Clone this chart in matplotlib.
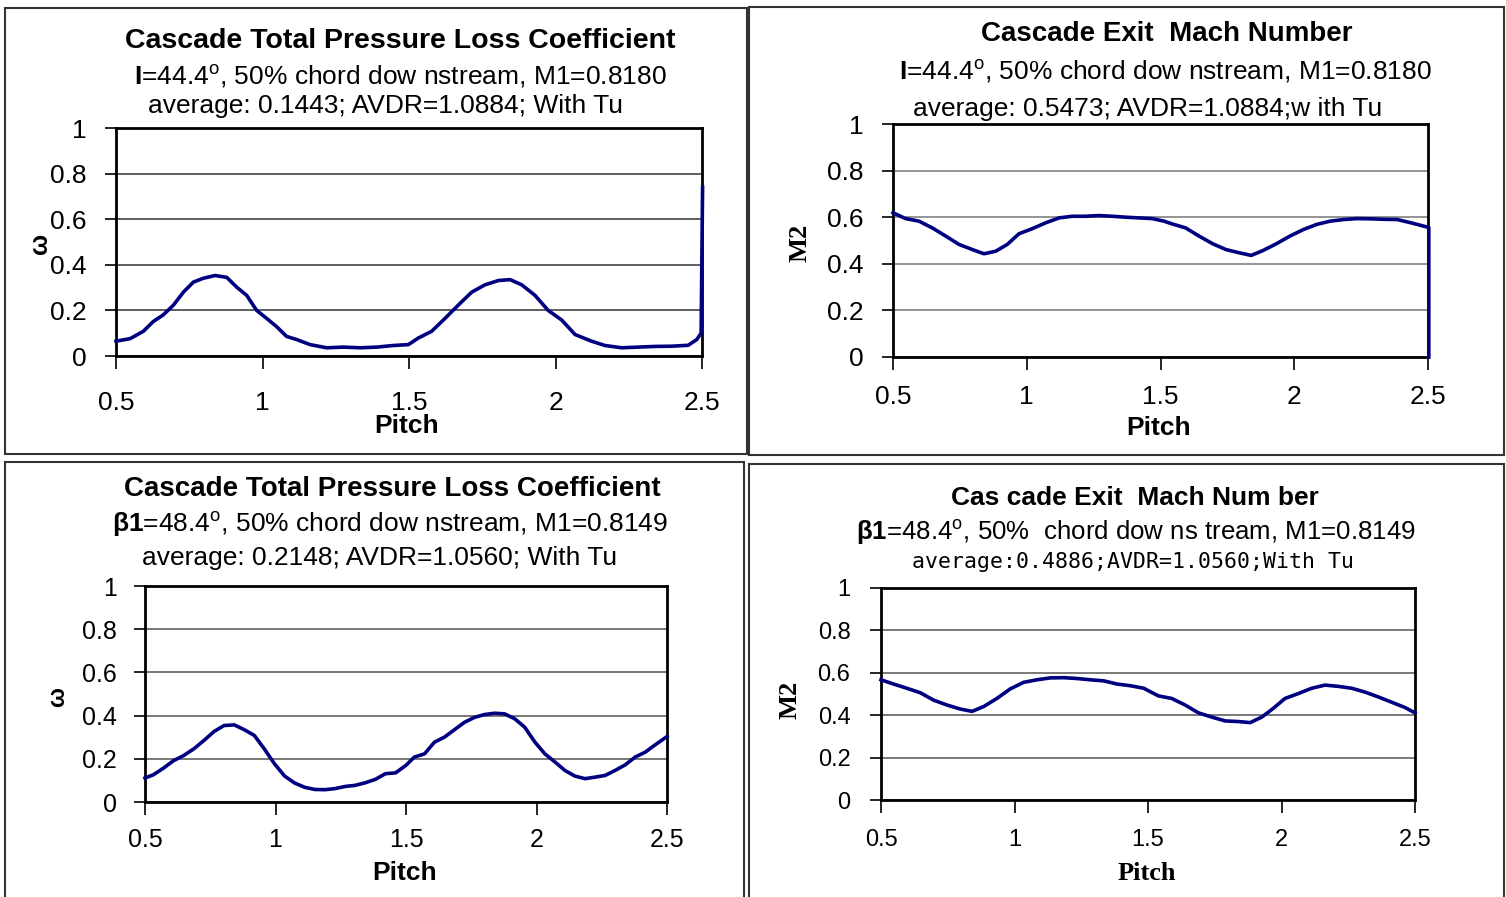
import numpy as np
import matplotlib
matplotlib.use('Agg')
import matplotlib.pyplot as plt
from matplotlib import font_manager
from matplotlib.patches import Rectangle
from matplotlib.ticker import FormatStrFormatter

plt.rcParams['font.family'] = ['Liberation Sans', 'DejaVu Sans']
plt.rcParams['mathtext.fontset'] = 'custom'
plt.rcParams['mathtext.rm'] = 'Liberation Sans'
plt.rcParams['mathtext.bf'] = 'Liberation Sans:bold'

installed = {f.name for f in font_manager.fontManager.ttflist}
narrow = 'Liberation Sans Narrow' if 'Liberation Sans Narrow' in installed else 'Liberation Sans'

# ---- traverse data: I = 44.4 deg ----
tl_pitch = [0.5, 0.548, 0.593, 0.627, 0.661, 0.696, 0.73, 0.764, 0.798, 0.838,
            0.878, 0.912, 0.946, 0.98, 1.014, 1.048, 1.082, 1.117, 1.162, 1.219,
            1.276, 1.333, 1.39, 1.446, 1.498, 1.532, 1.577, 1.623, 1.668, 1.714,
            1.759, 1.805, 1.845, 1.885, 1.93, 1.975, 2.021, 2.067, 2.123, 2.169,
            2.226, 2.283, 2.34, 2.397, 2.453, 2.482, 2.497, 2.502]
tl_loss = [0.065, 0.076, 0.108, 0.151, 0.18, 0.223, 0.28, 0.324, 0.341, 0.353,
           0.345, 0.302, 0.266, 0.2, 0.165, 0.129, 0.086, 0.072, 0.05, 0.036,
           0.039, 0.036, 0.039, 0.046, 0.05, 0.079, 0.108, 0.165, 0.223, 0.28,
           0.312, 0.331, 0.335, 0.312, 0.266, 0.2, 0.158, 0.094, 0.065, 0.046,
           0.036, 0.039, 0.042, 0.043, 0.047, 0.072, 0.1, 0.74]

tr_pitch = [0.5, 0.547, 0.597, 0.647, 0.697, 0.747, 0.797, 0.84, 0.884, 0.927,
            0.971, 1.021, 1.071, 1.121, 1.17, 1.22, 1.27, 1.32, 1.37, 1.42,
            1.469, 1.513, 1.544, 1.594, 1.644, 1.695, 1.745, 1.795, 1.839, 1.883,
            1.933, 1.984, 2.034, 2.084, 2.134, 2.185, 2.235, 2.285, 2.335, 2.385,
            2.436, 2.486, 2.503, 2.503]
tr_mach = [0.619, 0.594, 0.583, 0.554, 0.519, 0.483, 0.461, 0.443, 0.454, 0.483,
           0.529, 0.551, 0.576, 0.597, 0.604, 0.604, 0.607, 0.604, 0.6, 0.597,
           0.594, 0.583, 0.571, 0.554, 0.519, 0.486, 0.461, 0.447, 0.436, 0.457,
           0.486, 0.519, 0.547, 0.569, 0.583, 0.59, 0.594, 0.593, 0.591, 0.59,
           0.576, 0.561, 0.556, 0.0]

# ---- traverse data: beta1 = 48.4 deg ----
bl_pitch = [0.5, 0.532, 0.571, 0.61, 0.648, 0.687, 0.726, 0.764, 0.803, 0.842,
            0.88, 0.919, 0.957, 0.996, 1.035, 1.073, 1.112, 1.151, 1.189, 1.228,
            1.267, 1.305, 1.344, 1.383, 1.421, 1.46, 1.499, 1.532, 1.571, 1.609,
            1.647, 1.686, 1.724, 1.763, 1.801, 1.84, 1.878, 1.917, 1.955, 1.994,
            2.032, 2.071, 2.109, 2.147, 2.186, 2.224, 2.263, 2.301, 2.34, 2.378,
            2.417, 2.455, 2.5]
bl_loss = [0.111, 0.126, 0.157, 0.192, 0.215, 0.246, 0.285, 0.326, 0.354, 0.357,
           0.335, 0.308, 0.246, 0.177, 0.12, 0.088, 0.068, 0.058, 0.057, 0.062,
           0.072, 0.077, 0.089, 0.105, 0.131, 0.135, 0.169, 0.208, 0.223, 0.277,
           0.3, 0.335, 0.369, 0.392, 0.405, 0.411, 0.408, 0.385, 0.346, 0.277,
           0.223, 0.185, 0.146, 0.12, 0.108, 0.115, 0.123, 0.146, 0.172, 0.208,
           0.231, 0.265, 0.303]

br_pitch = [0.5, 0.547, 0.597, 0.647, 0.697, 0.747, 0.797, 0.841, 0.885, 0.934,
            0.984, 1.034, 1.084, 1.134, 1.184, 1.234, 1.284, 1.334, 1.384, 1.434,
            1.484, 1.539, 1.589, 1.639, 1.689, 1.739, 1.789, 1.839, 1.883, 1.926,
            1.97, 2.013, 2.063, 2.113, 2.163, 2.213, 2.263, 2.313, 2.363, 2.413,
            2.463, 2.5]
br_mach = [0.567, 0.547, 0.527, 0.506, 0.471, 0.448, 0.429, 0.418, 0.441, 0.479,
           0.524, 0.555, 0.567, 0.576, 0.577, 0.573, 0.567, 0.562, 0.547, 0.539,
           0.527, 0.491, 0.479, 0.448, 0.411, 0.391, 0.373, 0.37, 0.365, 0.391,
           0.433, 0.479, 0.502, 0.527, 0.542, 0.536, 0.527, 0.509, 0.486, 0.461,
           0.436, 0.411]

x_ticks = [0.5, 1, 1.5, 2, 2.5]
y_ticks = [0, 0.2, 0.4, 0.6, 0.8, 1]

W, H = 1506, 897
fig = plt.figure(figsize=(W / 100, H / 100), dpi=100)

def fx(x):
    return x / W

def fy(y):
    return 1 - y / H

def box(x0, y0, x1, y1):
    fig.add_artist(Rectangle((fx(x0), fy(y1)), fx(x1 - x0), (y1 - y0) / H,
                             transform=fig.transFigure, fill=False,
                             edgecolor='#333333', lw=1.5))

def panel(x0, y0, x1, y1, pitch, vals, tsize=18, xpad=20, ypad=12, tfont=None, grid='#333333'):
    ax = fig.add_axes([fx(x0), fy(y1), fx(x1 - x0), (y1 - y0) / H])
    ax.plot(pitch, vals, color='#000080', lw=2.6, clip_on=False, zorder=3)
    ax.set_xlim(0.5, 2.5)
    ax.set_ylim(0, 1)
    ax.set_xticks(x_ticks)
    ax.set_yticks(y_ticks)
    ax.xaxis.set_major_formatter(FormatStrFormatter('%g'))
    ax.yaxis.set_major_formatter(FormatStrFormatter('%g'))
    for s in ax.spines.values():
        s.set_linewidth(2)
    ax.grid(axis='y', color=grid, lw=1.1)
    ax.set_axisbelow(True)
    ax.tick_params(axis='x', direction='out', length=9, width=1.2, pad=xpad, labelsize=tsize)
    ax.tick_params(axis='y', direction='out', length=8, width=1.2, pad=ypad, labelsize=tsize)
    if tfont:
        for lab in ax.get_xticklabels() + ax.get_yticklabels():
            lab.set_family(tfont)
    return ax

def label(x, y, s, size=18, **kw):
    fig.text(fx(x), fy(y), s, ha='center', va='center', fontsize=size, **kw)

# panel frames
box(5, 8, 747, 454)
box(749, 7, 1504, 455)
box(5, 462, 744, 902)
box(749, 464, 1504, 902)

# top left: loss coefficient, I = 44.4
panel(116, 128, 702, 356, tl_pitch, tl_loss, tsize=19, xpad=16, ypad=13)
label(400, 41, 'Cascade Total Pressure Loss Coefficient', 20.5, weight='bold')
label(400, 76, r'$\mathbf{I}$=44.4$^{\rm o}$, 50% chord dow nstream, M1=0.8180', 19)
label(385, 106, 'average: 0.1443; AVDR=1.0884; With Tu', 19)
label(407, 426, 'Pitch', 19, weight='bold')
label(40, 243, 'ω', 18, weight='bold', rotation=90)

# top right: exit Mach number, I = 44.4
panel(893, 124, 1428, 357, tr_pitch, tr_mach, tsize=19, xpad=11, ypad=13, grid='#777777')
label(1167, 34, 'Cascade Exit  Mach Number', 20, weight='bold')
label(1165, 71, r'$\mathbf{I}$=44.4$^{\rm o}$, 50% chord dow nstream, M1=0.8180', 19)
label(1148, 109, 'average: 0.5473; AVDR=1.0884;w ith Tu', 19)
label(1159, 428, 'Pitch', 19, weight='bold')
label(800, 243, 'M2', 19, weight='bold', rotation=90, family='Liberation Serif')

# bottom left: loss coefficient, beta1 = 48.4
panel(145, 586, 667, 802, bl_pitch, bl_loss, tsize=18, xpad=10, ypad=12, grid='#555555')
label(392, 489, 'Cascade Total Pressure Loss Coefficient', 20, weight='bold')
label(390, 524, r'$\mathbf{β1}$=48.4$^{\rm o}$, 50% chord dow nstream, M1=0.8149', 19)
label(380, 558, 'average: 0.2148; AVDR=1.0560; With Tu', 19)
label(405, 873, 'Pitch', 19, weight='bold')
label(58, 697, 'ω', 17, weight='bold', rotation=90)

# bottom right: exit Mach number, beta1 = 48.4
panel(881, 588, 1415, 800, br_pitch, br_mach, tsize=17, xpad=12, ypad=14, tfont=narrow, grid='#555555')
label(1135, 498, 'Cas cade Exit  Mach Num ber', 19, weight='bold')
label(1136, 532, r'$\mathbf{β1}$=48.4$^{\rm o}$, 50%  chord dow ns tream, M1=0.8149', 18.6)
label(1133, 562, 'average:0.4886;AVDR=1.0560;With Tu', 15.5, family='DejaVu Sans Mono')
label(1147, 873, 'Pitch', 19, weight='bold', family='Liberation Serif')
label(790, 700, 'M2', 19, weight='bold', rotation=90, family='Liberation Serif')

fig.savefig('out.png', dpi=100)
